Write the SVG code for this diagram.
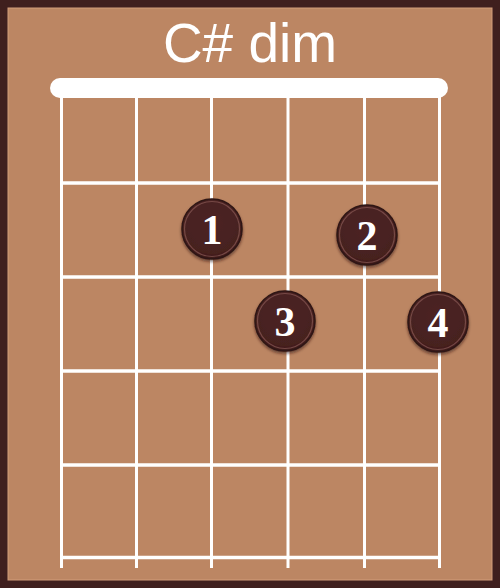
<svg xmlns="http://www.w3.org/2000/svg" width="500" height="588" viewBox="0 0 500 588">
  <defs>
    <radialGradient id="dotg" cx="50%" cy="40%" r="60%">
      <stop offset="0" stop-color="#4d2524"/>
      <stop offset="0.85" stop-color="#46201f"/>
      <stop offset="1" stop-color="#3a1918"/>
    </radialGradient>
    <filter id="sh" x="-30%" y="-30%" width="160%" height="160%">
      <feDropShadow dx="0" dy="2" stdDeviation="1.5" flood-color="#2a1010" flood-opacity="0.6"/>
    </filter>
  </defs>
  <style>
    .str { stroke: #ffffff; stroke-width: 3; fill: none; }
    .fret { stroke: #ffffff; stroke-width: 3.5; fill: none; }
    .dot { fill: url(#dotg); stroke: #2e1413; stroke-width: 1.5; filter: url(#sh); }
    .rim { fill: none; stroke: #8a5a55; stroke-width: 1.2; opacity: 0.7; }
    .num { font-family: "Liberation Serif", "DejaVu Serif", serif; font-weight: bold; font-size: 42px; fill: #ffffff; text-anchor: middle; }
    .title { font-family: "Liberation Sans", Arial, sans-serif; font-size: 55px; fill: #ffffff; text-anchor: middle; }
  </style>
  <rect x="0" y="0" width="500" height="588" fill="#3f1f1e"/>
  <rect x="8" y="8" width="484" height="572" fill="#bc8663" stroke="#d29d7b" stroke-width="1"/>
  <text class="title" x="250" y="62">C# dim</text>

  <g id="connectors">
    <g id="strings">
      <line class="str" x1="61.5" y1="95" x2="61.5" y2="568"/>
      <line class="str" x1="136.5" y1="95" x2="136.5" y2="568"/>
      <line class="str" x1="211.5" y1="95" x2="211.5" y2="568"/>
      <line class="str" x1="288" y1="95" x2="288" y2="568"/>
      <line class="str" x1="364.5" y1="95" x2="364.5" y2="568"/>
      <line class="str" x1="439.5" y1="95" x2="439.5" y2="568"/>
    </g>
    <g id="frets">
      <line class="fret" x1="61.5" y1="183" x2="439.5" y2="183"/>
      <line class="fret" x1="61.5" y1="277" x2="439.5" y2="277"/>
      <line class="fret" x1="61.5" y1="371" x2="439.5" y2="371"/>
      <line class="fret" x1="61.5" y1="465" x2="439.5" y2="465"/>
      <line class="fret" x1="61.5" y1="557.5" x2="439.5" y2="557.5"/>
    </g>
  </g>

  <g id="nut">
    <rect x="50" y="78" width="398" height="20" rx="10" fill="#ffffff"/>
  </g>

  <g id="finger1">
    <circle class="dot" cx="212" cy="229" r="30"/>
    <circle class="rim" cx="212" cy="229" r="27.5"/>
    <text class="num" x="212" y="244">1</text>
  </g>
  <g id="finger2">
    <circle class="dot" cx="367" cy="235" r="30"/>
    <circle class="rim" cx="367" cy="235" r="27.5"/>
    <text class="num" x="367" y="250">2</text>
  </g>
  <g id="finger3">
    <circle class="dot" cx="285" cy="321" r="30"/>
    <circle class="rim" cx="285" cy="321" r="27.5"/>
    <text class="num" x="285" y="336">3</text>
  </g>
  <g id="finger4">
    <circle class="dot" cx="438" cy="322" r="30"/>
    <circle class="rim" cx="438" cy="322" r="27.5"/>
    <text class="num" x="438" y="337">4</text>
  </g>
</svg>
